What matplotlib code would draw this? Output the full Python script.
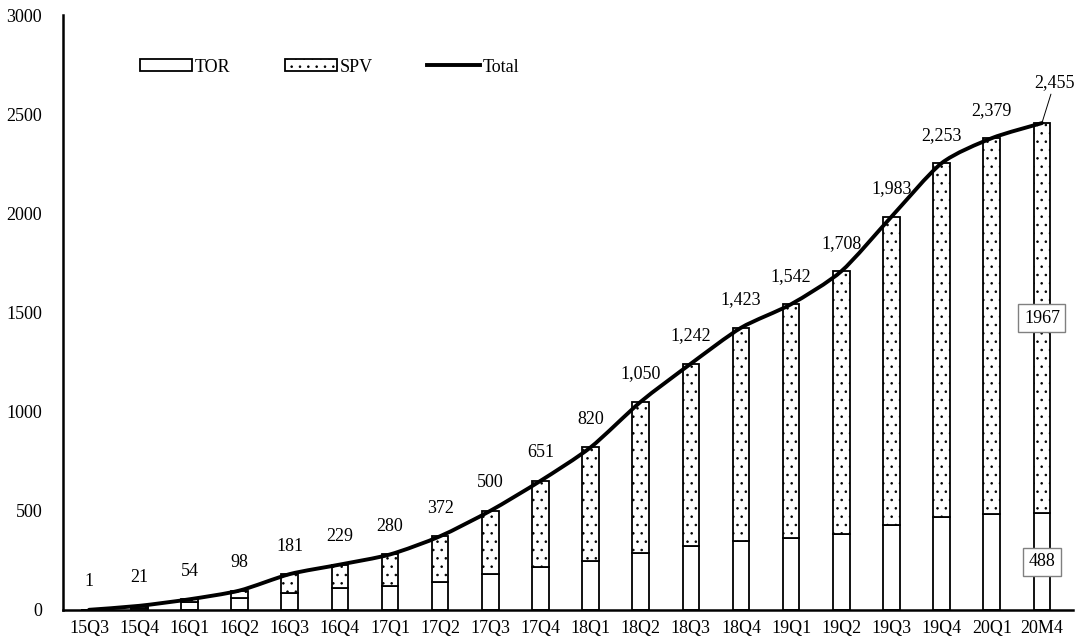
import matplotlib
matplotlib.use("Agg")
import matplotlib.pyplot as plt
import numpy as np
from matplotlib.path import Path
from matplotlib.patches import PathPatch, Patch
from matplotlib.lines import Line2D

plt.rcParams['font.family'] = ['Liberation Serif', 'DejaVu Serif']
plt.rcParams['hatch.linewidth'] = 0.6
plt.rcParams['hatch.color'] = 'black'

quarters = ['15Q3', '15Q4', '16Q1', '16Q2', '16Q3', '16Q4', '17Q1', '17Q2', '17Q3', '17Q4',
            '18Q1', '18Q2', '18Q3', '18Q4', '19Q1', '19Q2', '19Q3', '19Q4', '20Q1', '20M4']
total = [1, 21, 54, 98, 181, 229, 280, 372, 500, 651,
         820, 1050, 1242, 1423, 1542, 1708, 1983, 2253, 2379, 2455]
tor = [0, 10, 40, 60, 88, 110, 120, 140, 180, 215,
       245, 286, 325, 348, 362, 384, 430, 468, 483, 488]
spv = [t - r for t, r in zip(total, tor)]

fs = 13

fig = plt.figure(figsize=(10.75, 6.44), dpi=100)
ax = fig.add_axes([63/1075, 1-610/644, (1073-63)/1075, (610-15)/644])

x = np.arange(len(quarters))
w = 0.33
ax.bar(x, tor, w, color='white', edgecolor='black', linewidth=1.3, zorder=2)
ax.bar(x, spv, w, bottom=tor, color='white', edgecolor='black', linewidth=1.3,
       hatch='..', zorder=2)

# smoothed total line (Bezier through the points, like Excel's smoothed line)
pts = np.column_stack([x, total]).astype(float)
verts = [pts[0]]
codes = [Path.MOVETO]
k = 8
for i in range(len(pts) - 1):
    p0 = pts[i - 1] if i > 0 else pts[i]
    p1 = pts[i]
    p2 = pts[i + 1]
    p3 = pts[i + 2] if i + 2 < len(pts) else pts[i + 1]
    c1 = p1 + (p2 - p0) / k
    c2 = p2 - (p3 - p1) / k
    verts += [c1, c2, p2]
    codes += [Path.CURVE4] * 3
ax.add_patch(PathPatch(Path(verts, codes), facecolor='none', edgecolor='black',
                       linewidth=2.8, zorder=3, capstyle='round', joinstyle='round'))

for i, v in enumerate(total):
    if i == len(total) - 1:
        ax.annotate(f"{v:,}", xy=(x[i], v), xytext=(x[i] + 0.25, v + 160),
                    ha='center', va='bottom', fontsize=fs,
                    arrowprops=dict(arrowstyle='-', color='black', lw=0.7,
                                    shrinkA=0, shrinkB=0))
    else:
        ax.annotate(f"{v:,}", xy=(x[i], v), xytext=(0, 14), textcoords='offset points',
                    ha='center', va='bottom', fontsize=fs)

box = dict(boxstyle='square,pad=0.3', facecolor='white', edgecolor='#808080', linewidth=1)
ax.text(x[-1], tor[-1] + spv[-1] / 2, str(spv[-1]), ha='center', va='center',
        fontsize=fs, bbox=box, zorder=4)
ax.text(x[-1], tor[-1] / 2, str(tor[-1]), ha='center', va='center',
        fontsize=fs, bbox=box, zorder=4)

ax.set_xlim(-0.52, 19.62)
ax.set_ylim(0, 3000)
ax.set_yticks(np.arange(0, 3001, 500))
ax.set_xticks(x)
ax.set_xticklabels(quarters)
ax.tick_params(length=0, labelsize=fs, pad=7)
ax.tick_params(axis='y', pad=15)
for s in ['top', 'right']:
    ax.spines[s].set_visible(False)
for s in ['left', 'bottom']:
    ax.spines[s].set_linewidth(1.8)

handles = [Patch(facecolor='white', edgecolor='black', linewidth=1.3),
           Patch(facecolor='white', edgecolor='black', linewidth=1.3, hatch='..'),
           Line2D([], [], color='black', linewidth=2.8)]
fig.legend(handles, ['TOR', 'SPV', 'Total'], loc='center left',
           bbox_to_anchor=(140/1075, 1-67/644), ncol=3, frameon=False,
           fontsize=fs, handlelength=2.9, handleheight=0.6, handletextpad=0.15,
           columnspacing=3.0, borderpad=0, borderaxespad=0)

fig.savefig("out.png", dpi=100)
